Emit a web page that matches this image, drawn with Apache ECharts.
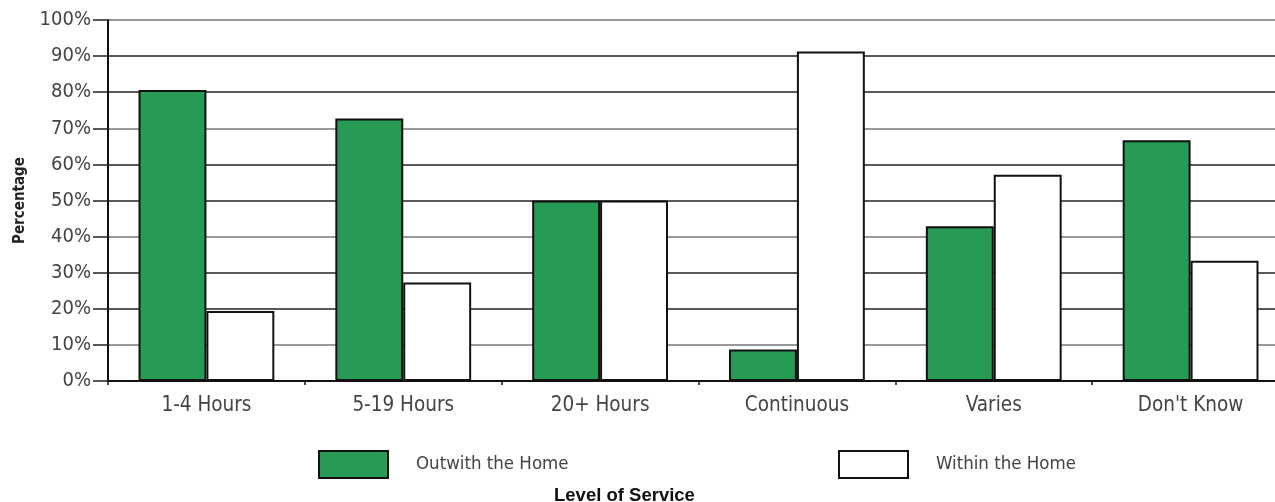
<!DOCTYPE html>
<html>
<head>
<meta charset="utf-8">
<script src="https://cdn.jsdelivr.net/npm/echarts@6/dist/echarts.min.js"></script>
<style>
html,body{margin:0;padding:0;background:#fff;overflow:hidden;width:1275px;height:502px;}
#chart{width:1289px;height:502px;}
</style>
</head>
<body>
<div id="chart"></div>
<script>
var categories = ['1-4 Hours', '5-19 Hours', '20+ Hours', 'Continuous', 'Varies', "Don't Know"];
var outwith = [80.6, 72.7, 50, 8.7, 42.9, 66.7];
var within = [19.4, 27.3, 50, 91.3, 57.1, 33.3];
var seriesNames = ['Outwith the Home', 'Within the Home'];
var xTitle = 'Level of Service';
var yTitle = 'Percentage';

var FONT = "'DejaVu Sans Condensed', 'DejaVu Sans', sans-serif";
var chart = echarts.init(document.getElementById('chart'), null, {renderer: 'canvas'});
var green = '#279a56';

chart.setOption({
  animation: false,
  backgroundColor: '#fff',
  title: {
    text: xTitle,
    left: 549, top: 481,
    textStyle: {fontFamily: "'Liberation Sans', Arial, sans-serif", fontSize: 18.5, fontWeight: 'bold', color: '#111'}
  },
  legend: [
    {
      data: [seriesNames[0]], left: 313, top: 445, itemWidth: 69, itemHeight: 27, icon: 'rect',
      itemStyle: {borderColor: '#111', borderWidth: 2},
      textStyle: {fontFamily: FONT, fontSize: 18.5, color: '#444', padding: [0, 0, 0, 23]}
    },
    {
      data: [seriesNames[1]], left: 833, top: 445, itemWidth: 69, itemHeight: 27, icon: 'rect',
      itemStyle: {borderColor: '#111', borderWidth: 2},
      textStyle: {fontFamily: FONT, fontSize: 18.5, color: '#444', padding: [0, 0, 0, 23]}
    }
  ],
  grid: {left: 108, right: 0, top: 20, height: 361, containLabel: false},
  xAxis: {
    type: 'category',
    data: categories,
    axisLine: {lineStyle: {color: '#111', width: 2}},
    axisTick: {show: true, length: 4, lineStyle: {color: '#111', width: 1.5}},
    axisLabel: {fontFamily: FONT, fontSize: 20.5, color: '#444', margin: 14}
  },
  yAxis: {
    type: 'value', min: 0, max: 100, interval: 10,
    name: yTitle, nameLocation: 'middle', nameGap: 80, nameRotate: 90,
    nameTextStyle: {fontFamily: FONT, fontSize: 15, fontWeight: 'bold', color: '#222'},
    axisLine: {show: true, lineStyle: {color: '#111', width: 2}},
    axisTick: {show: true, length: 15, lineStyle: {color: '#222', width: 1.5}},
    axisLabel: {fontFamily: FONT, fontSize: 20, color: '#444', margin: 17, formatter: '{value}%'},
    splitLine: {show: true, lineStyle: {color: ['#222', '#777', '#222'], width: 1.6}}
  },
  series: [
    {
      name: seriesNames[0], type: 'bar', data: outwith,
      barGap: '0%', barCategoryGap: '31%',
      itemStyle: {color: green, borderColor: '#111', borderWidth: 2}
    },
    {
      name: seriesNames[1], type: 'bar', data: within,
      barGap: '0%', barCategoryGap: '31%',
      itemStyle: {color: '#fff', borderColor: '#111', borderWidth: 2}
    }
  ]
});
</script>
</body>
</html>
